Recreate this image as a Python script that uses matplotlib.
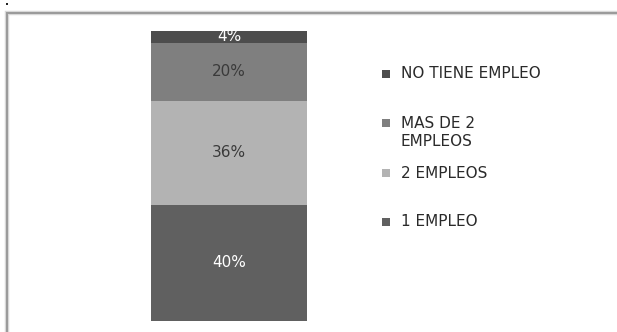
import matplotlib
matplotlib.use("Agg")
import matplotlib.pyplot as plt
from matplotlib.patches import Rectangle

# Employment situation, stacked as a single 100% column (bottom to top)
categories = ["1 EMPLEO", "2 EMPLEOS", "MAS DE 2\nEMPLEOS", "NO TIENE EMPLEO"]
values = [40, 36, 20, 4]
colors = ["#606060", "#b3b3b3", "#7f7f7f", "#4d4d4d"]
label_colors = ["white", "#3a3a3a", "#3a3a3a", "white"]

W, H = 617, 332
fig = plt.figure(figsize=(W / 100, H / 100), dpi=100)
fig.patch.set_facecolor("white")

# chart frame (open towards right and bottom edges)
frame = dict(transform=fig.transFigure, fill=False)
fig.patches.append(Rectangle((6.5 / W, -0.05), 1.0, (H - 12.5) / H + 0.05,
                             edgecolor="#d8d8d8", linewidth=3.2, **frame))
fig.patches.append(Rectangle((6.5 / W, -0.05), 1.0, (H - 12.5) / H + 0.05,
                             edgecolor="#9a9a9a", linewidth=1.4, **frame))
fig.patches.append(Rectangle((6 / W, (H - 4.5) / H), 2 / W, 2 / H,
                             transform=fig.transFigure, facecolor="#222222",
                             edgecolor="none"))

ax = fig.add_axes([151.3 / W, (H - 320.7) / H, 156 / W, 289.7 / H])
bottom = 0
for v, c, lc in zip(values, colors, label_colors):
    ax.bar(0, v, width=1.0, bottom=bottom, color=c, edgecolor="none")
    ax.text(0, bottom + v / 2, f"{v}%", ha="center", va="center",
            color=lc, fontsize=11, family="DejaVu Sans")
    bottom += v
ax.set_xlim(-0.5, 0.5)
ax.set_ylim(0, 100)
ax.axis("off")

# legend, top to bottom in reverse stacking order
legend_y = [74, 123, 173, 222]
for cat, c, y in zip(categories[::-1], colors[::-1], legend_y):
    fig.patches.append(Rectangle((382 / W, (H - y - 4) / H), 8 / W, 8 / H,
                                 transform=fig.transFigure, facecolor=c,
                                 edgecolor="none"))
    if "\n" in cat:
        fig.text(401 / W, (H - y + 7) / H, cat, ha="left", va="top",
                 fontsize=11, family="DejaVu Sans", color="#2a2a2a",
                 linespacing=1.25)
    else:
        fig.text(401 / W, (H - y) / H, cat, ha="left", va="center",
                 fontsize=11, family="DejaVu Sans", color="#2a2a2a")

fig.savefig("out.png", dpi=100)
